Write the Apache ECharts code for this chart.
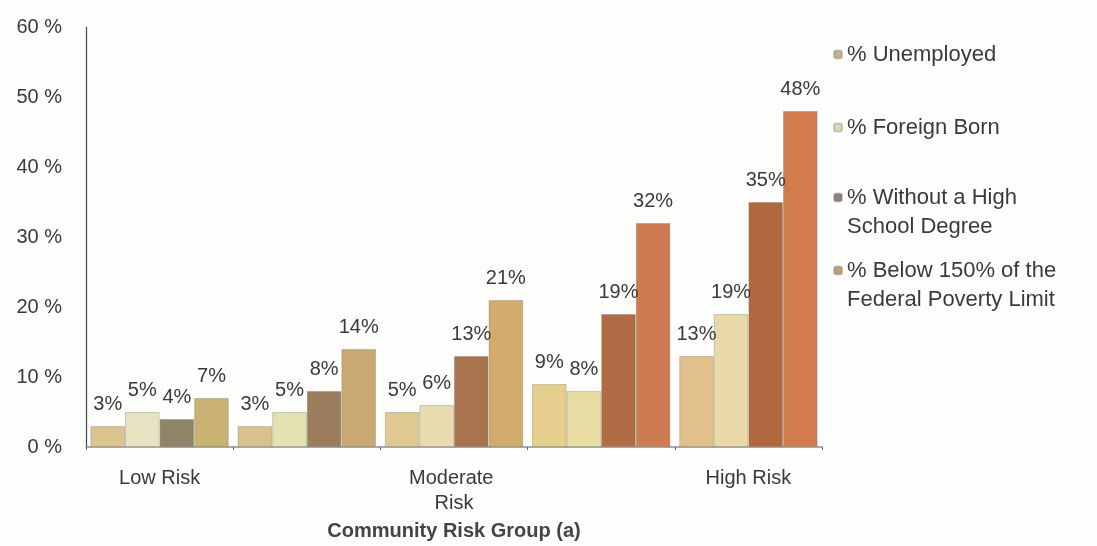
<!DOCTYPE html>
<html>
<head>
<meta charset="utf-8">
<script src="https://cdn.jsdelivr.net/npm/echarts@6/dist/echarts.min.js"></script>
<style>
  html, body { margin: 0; padding: 0; background: #fdfdfc; }
  #chart { width: 1097px; height: 546px; }
</style>
</head>
<body>
<div id="chart"></div>
<script>
// Community risk groups (the in-between groups carry no axis label)
const categories = ['Low Risk', '', 'Moderate Risk', '', 'High Risk'];

const seriesNames = [
  '% Unemployed',
  '% Foreign Born',
  '% Without a High School Degree',
  '% Below 150% of the Federal Poverty Limit'
];

// Percent of residents, per risk group
const unemployed   = [3, 3, 5, 9, 13];
const foreignBorn  = [5, 5, 6, 8, 19];
const noHighSchool = [4, 8, 13, 19, 35];
const belowPoverty = [7, 14, 21, 32, 48];

const yTicks = [0, 10, 20, 30, 40, 50, 60];

// Fill colours, one per risk group, warming toward the high-risk end
const palette = [
  ['#d9c58d', '#d8c18f', '#e0c891', '#e6cf8e', '#e2c08c'],
  ['#e7e3c0', '#e3e0b2', '#e9ddb0', '#e9dca3', '#e9d8a8'],
  ['#8f8567', '#9b7d5d', '#a8734d', '#b06c45', '#b2683f'],
  ['#c9b172', '#c9a971', '#d1ab6b', '#cd7c51', '#d27b4d']
];
const legendColors = ['#c8b48a', '#ddd8b4', '#8c8070', '#c0a07c'];

const values = [unemployed, foreignBorn, noHighSchool, belowPoverty];

const font = '"Liberation Sans", Arial, sans-serif';

const series = values.map((vals, s) => ({
  name: seriesNames[s],
  type: 'bar',
  barGap: '0%',
  barCategoryGap: '6%',
  color: legendColors[s],
  data: vals.map((v, i) => ({
    value: v,
    itemStyle: { color: palette[s][i] }
  })),
  itemStyle: {
    borderColor: 'rgba(120,120,110,0.35)',
    borderWidth: 1
  },
  label: {
    show: true,
    position: 'top',
    distance: 12,
    formatter: '{c}%',
    fontFamily: font,
    fontSize: 20,
    color: '#3a3a3a'
  }
}));

// One legend block per series; wrapped entries get a blank leading line so
// the swatch lines up with their first text line
const legendTops = [40, 113, 154, 227];
const legendText = [
  '% Unemployed',
  '% Foreign Born',
  ' \n% Without a High\nSchool Degree',
  ' \n% Below 150% of the\nFederal Poverty Limit'
];
const legends = seriesNames.map((name, i) => ({
  data: [name],
  orient: 'vertical',
  left: 833,
  top: legendTops[i],
  padding: 0,
  itemWidth: 8,
  itemHeight: 8,
  selectedMode: false,
  formatter: () => legendText[i],
  textStyle: {
    fontFamily: font,
    fontSize: 22,
    lineHeight: 29,
    color: '#3a3a3a'
  }
}));

const chart = echarts.init(document.getElementById('chart'));
chart.setOption({
  backgroundColor: '#fdfdfc',
  animation: false,
  grid: { left: 86, right: 275, top: 27, bottom: 94 },
  legend: legends,
  xAxis: {
    type: 'category',
    data: categories,
    axisLine: { show: true, lineStyle: { color: '#8a9090', width: 1.5 } },
    axisTick: { show: true, length: 3, lineStyle: { color: '#666' } },
    axisLabel: {
      interval: 0,
      margin: 19,
      width: 120,
      overflow: 'break',
      fontFamily: font,
      fontSize: 20,
      lineHeight: 25,
      color: '#3a3a3a'
    },
    name: 'Community Risk Group (a)',
    nameLocation: 'middle',
    nameGap: 73,
    nameTextStyle: {
      fontFamily: font,
      fontSize: 20,
      fontWeight: 'bold',
      color: '#444'
    }
  },
  yAxis: {
    type: 'value',
    min: yTicks[0],
    max: yTicks[yTicks.length - 1],
    interval: yTicks[1] - yTicks[0],
    axisLine: { show: true, lineStyle: { color: '#444', width: 1.2 } },
    axisTick: { show: false },
    splitLine: { show: false },
    axisLabel: {
      margin: 24,
      formatter: '{value} %',
      fontFamily: font,
      fontSize: 20,
      color: '#3a3a3a'
    }
  },
  series: series
});
</script>
</body>
</html>
